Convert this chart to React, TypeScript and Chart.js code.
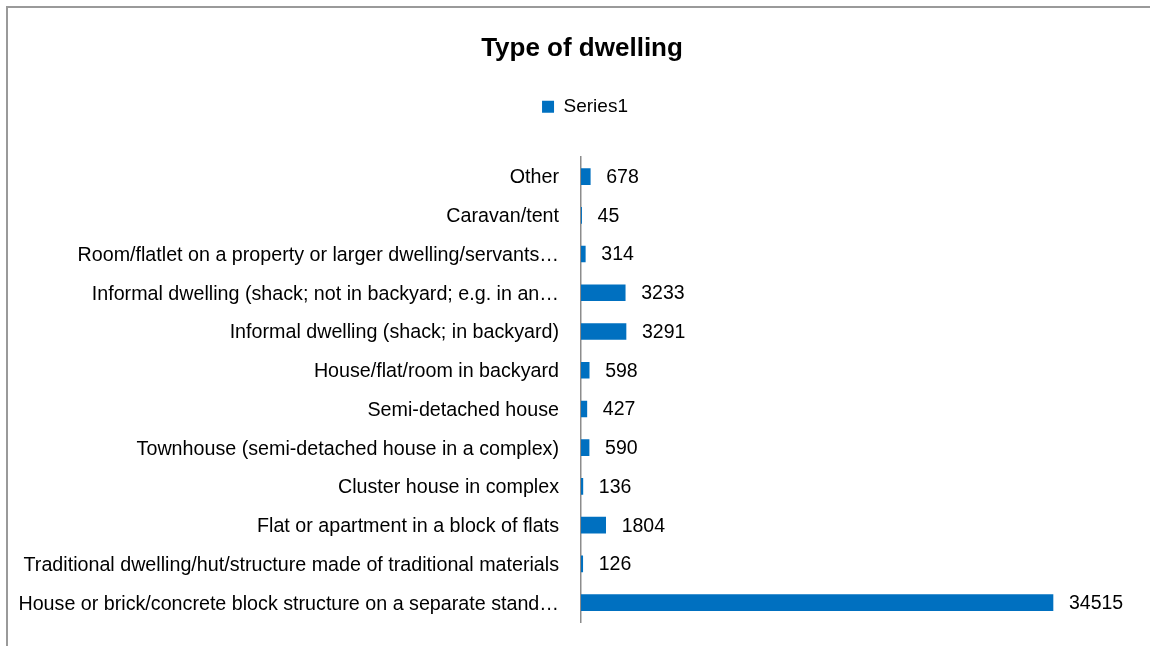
import React, { useEffect, useRef } from "react";
import { Chart, registerables } from "chart.js";

Chart.register(...registerables);

const chartTitle = "Type of dwelling";
const seriesName = "Series1";
const categories = [
  "Other",
  "Caravan/tent",
  "Room/flatlet on a property or larger dwelling/servants…",
  "Informal dwelling (shack; not in backyard; e.g. in an…",
  "Informal dwelling (shack; in backyard)",
  "House/flat/room in backyard",
  "Semi-detached house",
  "Townhouse (semi-detached house in a complex)",
  "Cluster house in complex",
  "Flat or apartment in a block of flats",
  "Traditional dwelling/hut/structure made of traditional materials",
  "House or brick/concrete block structure on a separate stand…",
];
const values = [678, 45, 314, 3233, 3291, 598, 427, 590, 136, 1804, 126, 34515];
const xMin = 0;
const xMax = 40000;

const FONT = '"Liberation Sans", Arial, Helvetica, sans-serif';

const valueLabels = {
  id: "valueLabels",
  afterDatasetsDraw(chart: any) {
    const ctx = chart.ctx;
    const meta = chart.getDatasetMeta(0);
    ctx.save();
    ctx.font = `19.5px ${FONT}`;
    ctx.fillStyle = "#000";
    ctx.textAlign = "left";
    ctx.textBaseline = "middle";
    meta.data.forEach((el: any, i: number) => {
      ctx.fillText(String(values[i]), el.x + 16, el.y + 1);
    });
    ctx.restore();
  },
};

const layoutTweaks = {
  id: "layoutTweaks",
  beforeInit(chart: any) {
    const legend = chart.legend;
    if (!legend) return;
    const orig = legend.fit;
    legend.fit = function () {
      orig.call(legend);
      legend.height += 31;
    };
  },
  afterLayout(chart: any) {
    const t = chart.titleBlock;
    if (t) {
      t.left += 18;
      t.right += 18;
    }
    const l = chart.legend;
    if (l) {
      l.left += 21;
      l.right += 21;
    }
  },
};

export default function App() {
  const ref = useRef<HTMLCanvasElement | null>(null);

  useEffect(() => {
    if (!ref.current) return;
    Chart.defaults.font.family = FONT;
    const chart = new Chart(ref.current, {
      type: "bar",
      data: {
        labels: categories,
        datasets: [
          {
            label: seriesName,
            data: values,
            backgroundColor: "#0070C0",
            borderWidth: 0,
            barThickness: 16,
          },
        ],
      },
      options: {
        indexAxis: "y",
        responsive: false,
        animation: false,
        events: [],
        layout: { padding: { left: 0, right: 22, top: 0, bottom: 24 } },
        scales: {
          x: { display: false, min: xMin, max: xMax },
          y: {
            grid: {
              display: true,
              drawOnChartArea: false,
              drawTicks: true,
              tickLength: 22,
              color: "rgba(0,0,0,0)",
            },
            border: { display: true, color: "#8c8c8c", width: 1.5 },
            ticks: {
              padding: 0,
              labelOffset: 1.5,
              color: "#000",
              font: { size: 19.7, family: FONT },
            },
            afterFit: (scale: any) => {
              scale.width = 581;
            },
          },
        },
        plugins: {
          title: {
            display: true,
            text: chartTitle,
            color: "#000",
            font: { size: 26, weight: "bold", family: FONT },
            padding: { top: 33, bottom: 21 },
          },
          legend: {
            display: true,
            position: "top",
            labels: {
              boxWidth: 12,
              boxHeight: 12,
              padding: 12,
              color: "#000",
              font: { size: 19, family: FONT },
            },
          },
          tooltip: { enabled: false },
        },
      },
      plugins: [valueLabels, layoutTweaks],
    });
    return () => chart.destroy();
  }, []);

  return (
    <div
      style={{
        position: "fixed",
        left: 0,
        top: 0,
        width: 1150,
        height: 646,
        overflow: "hidden",
        background: "#fff",
      }}
    >
      <div
        style={{
          position: "absolute",
          left: 6,
          top: 6,
          width: 2000,
          height: 2000,
          borderTop: "2px solid #9a9a9a",
          borderLeft: "2px solid #9a9a9a",
        }}
      />
      <canvas
        ref={ref}
        width={1150}
        height={646}
        style={{ position: "absolute", left: 0, top: 0, width: 1150, height: 646 }}
      />
    </div>
  );
}
